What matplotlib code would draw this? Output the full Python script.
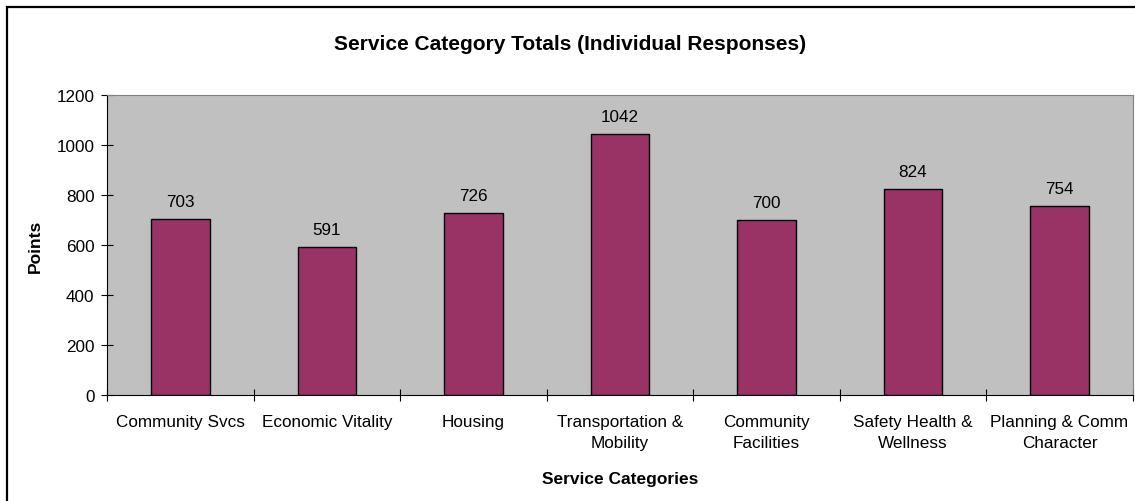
import matplotlib.pyplot as plt
from matplotlib.patches import Rectangle
import numpy as np

plt.rcParams['font.family'] = ['Liberation Sans', 'DejaVu Sans']

categories = ['Community Svcs', 'Economic Vitality', 'Housing',
              'Transportation &\nMobility', 'Community\nFacilities',
              'Safety Health &\nWellness', 'Planning & Comm\nCharacter']
points = [703, 591, 726, 1042, 700, 824, 754]

fig = plt.figure(figsize=(11.35, 5.02), dpi=100)
ax = fig.add_axes([0.0943, 0.2112, 0.9037, 0.5976])

# outer chart border (runs off the right and bottom edges)
fig.patches.append(Rectangle((7 / 1135, -0.1), 1.2, 1 - 8 / 502 + 0.1,
                             transform=fig.transFigure, fill=False,
                             edgecolor='black', linewidth=1.6, zorder=0))

x = np.arange(len(categories))
bars = ax.bar(x, points, width=0.4, color='#993366', edgecolor='black',
              linewidth=1, zorder=2)
for b, v in zip(bars, points):
    ax.annotate(str(v), (b.get_x() + b.get_width() / 2, v),
                xytext=(0, 9.5), textcoords='offset points',
                ha='center', va='baseline', fontsize=12.3)

ax.set_facecolor('#C0C0C0')
ax.set_xlim(-0.5, len(categories) - 0.5)
ax.set_ylim(0, 1200)
ax.set_yticks(range(0, 1201, 200))

# ticks sit between categories, labels centred under bars
ax.set_xticks(np.arange(-0.5, len(categories), 1))
ax.set_xticklabels([])
ax.set_xticks(x, minor=True)
ax.set_xticklabels(categories, minor=True, fontsize=12.3, linespacing=1.45)
ax.tick_params(axis='x', which='minor', length=0, pad=14)
ax.tick_params(axis='x', which='major', direction='inout', length=8, width=0.8)
ax.tick_params(axis='y', direction='inout', length=8, width=0.8, labelsize=12.3, pad=5)

ax.spines['top'].set_color('#808080')
ax.spines['right'].set_color('#808080')
ax.spines['left'].set_color('black')
ax.spines['bottom'].set_color('black')

ax.set_ylabel('Points', fontsize=12.5, fontweight='bold', labelpad=10)
ax.set_xlabel('Service Categories', fontsize=12.5, fontweight='bold', labelpad=15)
fig.text(0.502, 1 - 44 / 502, 'Service Category Totals (Individual Responses)',
         ha='center', va='center', fontsize=15, fontweight='bold')

plt.savefig('out.png', dpi=100)
